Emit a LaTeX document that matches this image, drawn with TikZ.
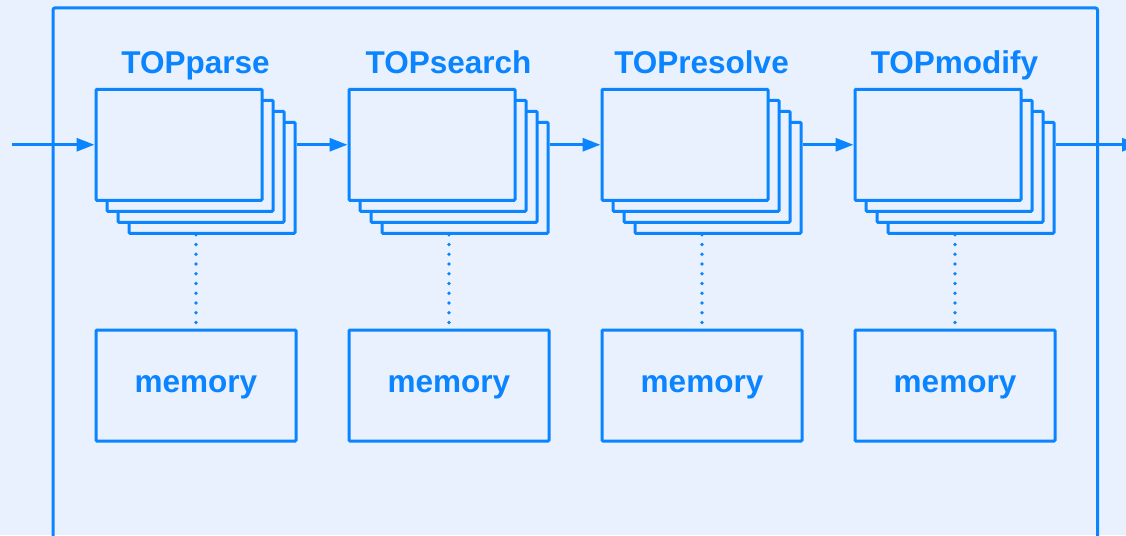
\documentclass[tikz,border=0pt]{standalone}
\usepackage{fontspec}
\setmainfont{Liberation Sans}
\usetikzlibrary{arrows.meta}
\definecolor{ln}{RGB}{10,132,255}
\definecolor{bg}{RGB}{232,241,253}
\begin{document}
\begin{tikzpicture}[x=1pt,y=-1pt,
  layer/.style={draw=ln,line width=3pt,fill=bg,minimum width=166pt,minimum height=111pt,inner sep=0pt,rounded corners=1pt},
  mem/.style={draw=ln,line width=3pt,minimum width=200pt,minimum height=111pt,inner sep=0pt,rounded corners=1pt,text=ln,text depth=2pt,font=\bfseries\fontsize{31.5}{36}\selectfont},
  ttl/.style={text=ln,anchor=base,inner sep=0pt,font=\bfseries\fontsize{31.5}{36}\selectfont},
  flow/.style={draw=ln,line width=3pt,-{Triangle[length=18pt,width=13pt]}},
  dotline/.style={draw=ln,line width=3.6pt,dash pattern=on 0pt off 9.75pt,line cap=round},
  frame/.style={draw=ln,line width=3pt,rounded corners=2pt}
]
\clip (0,0) rectangle (1126,535);
\fill[bg] (0,0) rectangle (1126,535);
\draw[frame] (53,545) -- (53,8) -- (1097.5,8) -- (1097.5,545);
\foreach \i/\t in {1/TOPparse,2/TOPsearch,3/TOPresolve,4/TOPmodify}{
  \pgfmathsetmacro{\x}{179+253*(\i-1)}
  \node[layer] (p\i d) at (\x+33,144.75+33) {};
  \node[layer] (p\i c) at (\x+22,144.75+22) {};
  \node[layer] (p\i b) at (\x+11,144.75+11) {};
  \node[layer] (p\i) at (\x,144.75) {};
  \node[ttl] (t\i) at (\x+16.5,74) {\t};
  \node[mem] (m\i) at (\x+17,385.5) {memory};
  \draw[dotline] (m\i.north |- p\i d.south) -- (m\i.north);
}
\coordinate (in) at (12,144.75);
\coordinate (out) at (1140,144.75);
\draw[flow] (in) -- (p1.west);
\draw[flow] (p1d.east |- p1.east) -- (p2.west);
\draw[flow] (p2d.east |- p2.east) -- (p3.west);
\draw[flow] (p3d.east |- p3.east) -- (p4.west);
\draw[flow] (p4d.east |- p4.east) -- (out);
\end{tikzpicture}
\end{document}
